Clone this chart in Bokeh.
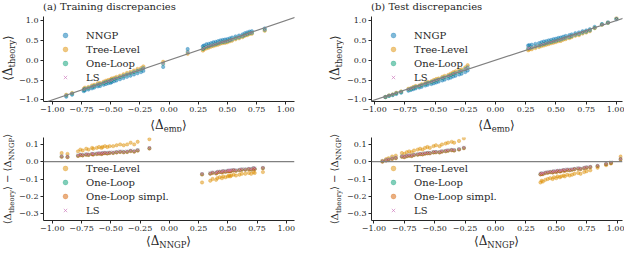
import numpy as np
from bokeh.plotting import figure
from bokeh.models import Slope, Span, FixedTicker, Range1d, Div
from bokeh.layouts import column, row
from bokeh.embed import file_html
from bokeh.resources import INLINE

# ---------------- data ----------------
# (a) training set
emp_train = [-0.88, -0.83, -0.73, -0.72, -0.69, -0.66, -0.64, -0.61, -0.59, -0.56,
             -0.54, -0.52, -0.50, -0.49, -0.47, -0.45, -0.42, -0.39, -0.36, -0.33,
             -0.30, -0.27, -0.24, -0.22, -0.05,
             0.16, 0.29, 0.30, 0.32, 0.34, 0.36, 0.38, 0.40, 0.42, 0.44,
             0.46, 0.48, 0.50, 0.52, 0.54, 0.57, 0.60, 0.63, 0.65, 0.67,
             0.69, 0.71, 0.82]
nngp_train = [-0.92, -0.87, -0.78, -0.76, -0.74, -0.71, -0.69, -0.66, -0.65, -0.62,
              -0.60, -0.58, -0.57, -0.55, -0.53, -0.51, -0.48, -0.45, -0.42, -0.39,
              -0.36, -0.33, -0.30, -0.27, -0.17,
              0.28, 0.35, 0.37, 0.40, 0.41, 0.43, 0.45, 0.46, 0.48, 0.50,
              0.51, 0.52, 0.53, 0.55, 0.57, 0.60, 0.62, 0.65, 0.68, 0.70,
              0.72, 0.73, 0.80]
tree_diff_train = [0.050, 0.045, 0.060, 0.070, 0.065, 0.075, 0.070, 0.080, 0.075, 0.080,
                   0.085, 0.080, 0.085, 0.090, 0.085, 0.090, 0.090, 0.095, 0.100, 0.095,
                   0.100, 0.110, 0.100, 0.115, 0.130,
                   -0.120, -0.110, -0.100, -0.105, -0.095, -0.090, -0.095, -0.085, -0.090, -0.085,
                   -0.080, -0.085, -0.080, -0.075, -0.080, -0.075, -0.070, -0.070, -0.065, -0.070,
                   -0.060, -0.065, -0.060]
oneloop_diff_train = [0.030, 0.028, 0.035, 0.040, 0.038, 0.042, 0.040, 0.045, 0.043, 0.046,
                      0.048, 0.046, 0.049, 0.051, 0.049, 0.052, 0.052, 0.055, 0.058, 0.056,
                      0.058, 0.063, 0.060, 0.066, 0.078,
                      -0.072, -0.068, -0.063, -0.066, -0.060, -0.058, -0.060, -0.055, -0.057, -0.054,
                      -0.052, -0.054, -0.051, -0.049, -0.051, -0.048, -0.045, -0.045, -0.042, -0.044,
                      -0.038, -0.041, -0.036]
simpl_diff_train = [0.028, 0.026, 0.033, 0.038, 0.036, 0.040, 0.039, 0.043, 0.041, 0.044,
                    0.046, 0.044, 0.047, 0.049, 0.047, 0.050, 0.050, 0.053, 0.056, 0.054,
                    0.056, 0.061, 0.058, 0.064, 0.076,
                    -0.074, -0.070, -0.065, -0.068, -0.062, -0.060, -0.062, -0.057, -0.059, -0.056,
                    -0.054, -0.056, -0.053, -0.051, -0.053, -0.050, -0.047, -0.047, -0.044, -0.046,
                    -0.040, -0.043, -0.038]
ls_diff_train = [0.033, 0.031, 0.038, 0.043, 0.041, 0.045, 0.043, 0.048, 0.046, 0.049,
                 0.051, 0.049, 0.052, 0.054, 0.052, 0.055, 0.055, 0.058, 0.061, 0.059,
                 0.061, 0.066, 0.063, 0.069, 0.082,
                 -0.068, -0.065, -0.060, -0.063, -0.057, -0.055, -0.057, -0.052, -0.054, -0.051,
                 -0.049, -0.051, -0.048, -0.046, -0.048, -0.045, -0.042, -0.042, -0.039, -0.041,
                 -0.035, -0.038, -0.033]

# (b) test set
emp_test = [-0.91, -0.88, -0.85, -0.82, -0.78, -0.72, -0.70, -0.68, -0.66, -0.63,
            -0.61, -0.58, -0.56, -0.53, -0.51, -0.49, -0.47, -0.44, -0.42, -0.39,
            -0.37, -0.35, -0.33, -0.30, -0.28, -0.25, -0.23,
            0.27, 0.28, 0.30, 0.33, 0.36, 0.38, 0.40, 0.42, 0.44, 0.46,
            0.48, 0.50, 0.52, 0.54, 0.56, 0.58, 0.61, 0.63, 0.66, 0.69,
            0.72, 0.75, 0.78, 0.82, 0.88, 0.93, 1.00]
nngp_test = [-0.93, -0.90, -0.88, -0.85, -0.82, -0.77, -0.75, -0.73, -0.71, -0.69,
             -0.67, -0.64, -0.62, -0.60, -0.58, -0.56, -0.54, -0.51, -0.49, -0.46,
             -0.44, -0.41, -0.39, -0.36, -0.34, -0.30, -0.26,
             0.37, 0.38, 0.39, 0.41, 0.43, 0.45, 0.47, 0.48, 0.50, 0.51,
             0.53, 0.54, 0.56, 0.57, 0.59, 0.61, 0.63, 0.65, 0.68, 0.70,
             0.73, 0.75, 0.78, 0.84, 0.91, 0.95, 1.03]
tree_diff_test = [0.005, 0.015, 0.020, 0.030, 0.035, 0.050, 0.045, 0.055, 0.060, 0.055,
                  0.065, 0.070, 0.075, 0.070, 0.080, 0.085, 0.080, 0.090, 0.095, 0.090,
                  0.100, 0.105, 0.110, 0.115, 0.110, 0.120, 0.135,
                  -0.120, -0.110, -0.115, -0.105, -0.100, -0.095, -0.100, -0.090, -0.095, -0.085,
                  -0.090, -0.085, -0.080, -0.085, -0.075, -0.080, -0.075, -0.070, -0.065, -0.070,
                  -0.060, -0.055, -0.050, -0.035, -0.020, -0.010, 0.030]
oneloop_diff_test = [0.002, 0.008, 0.012, 0.018, 0.022, 0.030, 0.028, 0.033, 0.036, 0.034,
                     0.040, 0.042, 0.045, 0.044, 0.048, 0.050, 0.050, 0.055, 0.056, 0.055,
                     0.060, 0.062, 0.065, 0.068, 0.066, 0.072, 0.080,
                     -0.072, -0.068, -0.070, -0.064, -0.062, -0.059, -0.061, -0.056, -0.058, -0.053,
                     -0.055, -0.052, -0.049, -0.051, -0.046, -0.048, -0.045, -0.042, -0.039, -0.041,
                     -0.036, -0.033, -0.030, -0.024, -0.013, -0.006, 0.015]
simpl_diff_test = [0.000, 0.006, 0.010, 0.016, 0.020, 0.028, 0.026, 0.031, 0.034, 0.032,
                   0.038, 0.040, 0.043, 0.042, 0.046, 0.048, 0.048, 0.053, 0.054, 0.053,
                   0.058, 0.060, 0.063, 0.066, 0.064, 0.070, 0.078,
                   -0.074, -0.070, -0.072, -0.066, -0.064, -0.061, -0.063, -0.058, -0.060, -0.055,
                   -0.057, -0.054, -0.051, -0.053, -0.048, -0.050, -0.047, -0.044, -0.041, -0.043,
                   -0.038, -0.035, -0.032, -0.026, -0.015, -0.008, 0.013]
ls_diff_test = [0.005, 0.011, 0.015, 0.021, 0.025, 0.033, 0.031, 0.036, 0.039, 0.037,
                0.043, 0.045, 0.048, 0.047, 0.051, 0.053, 0.053, 0.058, 0.059, 0.058,
                0.063, 0.065, 0.068, 0.071, 0.069, 0.075, 0.083,
                -0.069, -0.065, -0.067, -0.061, -0.059, -0.056, -0.058, -0.053, -0.055, -0.050,
                -0.052, -0.049, -0.046, -0.048, -0.043, -0.045, -0.042, -0.039, -0.036, -0.038,
                -0.033, -0.030, -0.027, -0.021, -0.010, -0.003, 0.018]

# ticks
x_ticks = [-1.0, -0.75, -0.5, -0.25, 0.0, 0.25, 0.5, 0.75, 1.0]
x_tick_labels = ["\u22121.00", "\u22120.75", "\u22120.50", "\u22120.25", "0.00", "0.25", "0.50", "0.75", "1.00"]
y_ticks_top = [-1.0, -0.5, 0.0, 0.5, 1.0]
y_tick_labels_top = ["\u22121.0", "\u22120.5", "0.0", "0.5", "1.0"]
y_ticks_bot = [-0.3, -0.2, -0.1, 0.0, 0.1]
y_tick_labels_bot = ["\u22120.3", "\u22120.2", "\u22120.1", "0.0", "0.1"]

# texts
titles = ["(a) Training discrepancies", "(b) Test discrepancies"]


def sub(t, size, drop):
    return f"<span style='font-size:{size}px;position:relative;top:{drop}px;'>{t}</span>"


lab_emp = f"\u27e8\u0394{sub('emp', 8.4, 3)}\u27e9"
lab_nngp = f"\u27e8\u0394{sub('NNGP', 8.4, 3)}\u27e9"
lab_theory = f"\u27e8\u0394{sub('theory', 8.4, 3)}\u27e9"
lab_diff = (f"\u27e8\u0394{sub('theory', 7, 2.5)}\u27e9 \u2212 "
            f"\u27e8\u0394{sub('NNGP', 7, 2.5)}\u27e9")

# ---------------- styling / geometry ----------------
FONT = "DejaVu Serif"
INK = "#262626"
GREY = "#808080"
C_NNGP, C_TREE, C_ONE, C_SIMPL, C_LS = "#0173b2", "#de8f05", "#029e73", "#d55e00", "#cc78bc"
ALPHA = 0.5

W_YL, W_L, W_YR, W_R = 16, 311, 16, 281       # column widths (sum 624)
H_T, H_TOP, H_XL, H_BOT, H_XL2 = 11, 106, 14, 104, 12  # row heights (sum 247)
L_BL, L_BR = 27, 33                            # left-column figure borders
R_BL, R_BR = 28, 2                             # right-column figure borders
TOP_BT, TOP_BB = 5, 16
BOT_BT, BOT_BB = 6, 15


def make_fig(width, height, xr, yr, bl, br, bt, bb, yticks, ylabels):
    p = figure(width=width, height=height, x_range=Range1d(*xr), y_range=Range1d(*yr),
               output_backend="svg", toolbar_location=None,
               min_border_left=bl, min_border_right=br, min_border_top=bt, min_border_bottom=bb)
    p.outline_line_color = None
    p.grid.visible = False
    p.background_fill_color = "white"
    p.border_fill_color = "white"
    p.xaxis.ticker = FixedTicker(ticks=x_ticks)
    p.xaxis.major_label_overrides = dict(zip(x_ticks, x_tick_labels))
    p.yaxis.ticker = FixedTicker(ticks=yticks)
    p.yaxis.major_label_overrides = dict(zip(yticks, ylabels))
    for ax in (p.xaxis[0], p.yaxis[0]):
        ax.axis_line_color = INK
        ax.axis_line_width = 1
        ax.major_tick_line_color = INK
        ax.major_tick_line_width = 1
        ax.minor_tick_line_color = None
        ax.major_tick_out = 3
        ax.major_tick_in = 0
        ax.major_label_text_font = FONT
        ax.major_label_text_font_size = "8px"
        ax.major_label_text_color = INK
        ax.major_label_standoff = 2
    return p


def style_legend(p, loc, padding, gw, standoff):
    lg = p.legend[0]
    lg.location = loc
    lg.margin = 0
    lg.padding = padding
    lg.spacing = 2
    lg.glyph_width = gw
    lg.glyph_height = 12
    lg.label_height = 12
    lg.label_standoff = standoff
    lg.label_text_font = FONT
    lg.label_text_font_size = "10px"
    lg.label_text_color = INK
    lg.label_text_baseline = "middle"
    lg.background_fill_alpha = 0
    lg.border_line_alpha = 0


def dots(p, x, y, color, label):
    p.scatter(x, y, marker="circle", size=3.4, fill_color=color, line_color=color,
              line_width=0.6, fill_alpha=ALPHA, line_alpha=ALPHA, legend_label=label)


def crosses(p, x, y, color, label):
    p.scatter(x, y, marker="x", size=4.2, line_color=color, line_alpha=0.65,
              line_width=1, legend_label=label)


def top_panel(width, xr, bl, br, emp, nngp, tree_d, one_d, ls_d):
    nn = np.array(nngp)
    p = make_fig(width, H_TOP, xr, (-1.04, 1.10), bl, br, TOP_BT, TOP_BB,
                 y_ticks_top, y_tick_labels_top)
    p.add_layout(Slope(gradient=1, y_intercept=0, line_color=GREY, line_width=1.2))
    dots(p, emp, nngp, C_NNGP, "NNGP")
    dots(p, emp, nn + np.array(tree_d), C_TREE, "Tree-Level")
    dots(p, emp, nn + np.array(one_d), C_ONE, "One-Loop")
    crosses(p, emp, nn + np.array(ls_d), C_LS, "LS")
    style_legend(p, (7, 14), 4, 22, 10)
    return p


def bottom_panel(width, xr, bl, br, nngp, tree_d, one_d, simpl_d, ls_d):
    p = make_fig(width, H_BOT, xr, (-0.34, 0.14), bl, br, BOT_BT, BOT_BB,
                 y_ticks_bot, y_tick_labels_bot)
    p.add_layout(Span(location=0, dimension="width", line_color=GREY, line_width=1.2))
    dots(p, nngp, tree_d, C_TREE, "Tree-Level")
    dots(p, nngp, one_d, C_ONE, "One-Loop")
    dots(p, nngp, simpl_d, C_SIMPL, "One-Loop simpl.")
    crosses(p, nngp, ls_d, C_LS, "LS")
    style_legend(p, (8, 1), 3, 22, 10)
    return p


def span(html, x, y, mode="center", size=10):
    if mode == "left":
        tr = "translate(0,-50%)"
    elif mode == "rot":
        tr = "translate(-50%,-50%) rotate(-90deg)"
    else:
        tr = "translate(-50%,-50%)"
    return (f"<span style=\"position:absolute;left:{x}px;top:{y}px;transform:{tr};"
            f"white-space:nowrap;font-size:{size}px;line-height:{size + 2}px;\">{html}</span>")


def text_div(width, height, spans):
    html = (f"<div style=\"position:relative;width:{width}px;height:{height}px;overflow:visible;"
            f"font-family:'{FONT}';color:{INK};\">" + "".join(spans) + "</div>")
    return Div(text=html, width=width, height=height, margin=0,
               styles={"overflow": "visible"})


p_tl = top_panel(W_L, (-1.075, 1.075), L_BL, L_BR, emp_train, nngp_train, tree_diff_train,
                 oneloop_diff_train, ls_diff_train)
p_tr = top_panel(W_R, (-1.025, 1.05), R_BL, R_BR, emp_test, nngp_test, tree_diff_test,
                 oneloop_diff_test, ls_diff_test)
p_bl = bottom_panel(W_L, (-1.075, 1.07), L_BL, L_BR, nngp_train, tree_diff_train,
                    oneloop_diff_train, simpl_diff_train, ls_diff_train)
p_br = bottom_panel(W_R, (-1.02, 1.045), R_BL, R_BR, nngp_test, tree_diff_test,
                    oneloop_diff_test, simpl_diff_test, ls_diff_test)

TOTAL_W = W_YL + W_L + W_YR + W_R
x_frame_l = W_YL + L_BL
x_frame_l_end = W_YL + W_L - L_BR
x_frame_r = W_YL + W_L + W_YR + R_BL
x_frame_r_end = TOTAL_W - R_BR
cx_l = (x_frame_l + x_frame_l_end) / 2
cx_r = (x_frame_r + x_frame_r_end) / 2

title_div = text_div(TOTAL_W, H_T, [span(titles[0], x_frame_l, 5.5, "left"),
                                     span(titles[1], x_frame_r, 5.5, "left")])
xl1_div = text_div(TOTAL_W, H_XL, [span(lab_emp, cx_l, 7.5, size=12),
                                   span(lab_emp, cx_r, 7.5, size=12)])
xl2_div = text_div(TOTAL_W, H_XL2, [span(lab_nngp, cx_l, 6, size=12),
                                    span(lab_nngp, cx_r, 6, size=12)])

top_mid = TOP_BT + (H_TOP - TOP_BT - TOP_BB) / 2 - 1
bot_mid = BOT_BT + (H_BOT - BOT_BT - BOT_BB) / 2
yl_tl = text_div(W_YL, H_TOP, [span(lab_theory, 8, top_mid, "rot", size=12)])
yl_tr = text_div(W_YR, H_TOP, [span(lab_theory, 8, top_mid, "rot", size=12)])
yl_bl = text_div(W_YL, H_BOT, [span(lab_diff, 8, bot_mid, "rot", size=10)])
yl_br = text_div(W_YR, H_BOT, [span(lab_diff, 8, bot_mid, "rot", size=10)])

layout = column(
    title_div,
    row(yl_tl, p_tl, yl_tr, p_tr, spacing=0),
    xl1_div,
    row(yl_bl, p_bl, yl_br, p_br, spacing=0),
    xl2_div,
    spacing=0,
)

open("out.html", "w").write(file_html(layout, INLINE))
